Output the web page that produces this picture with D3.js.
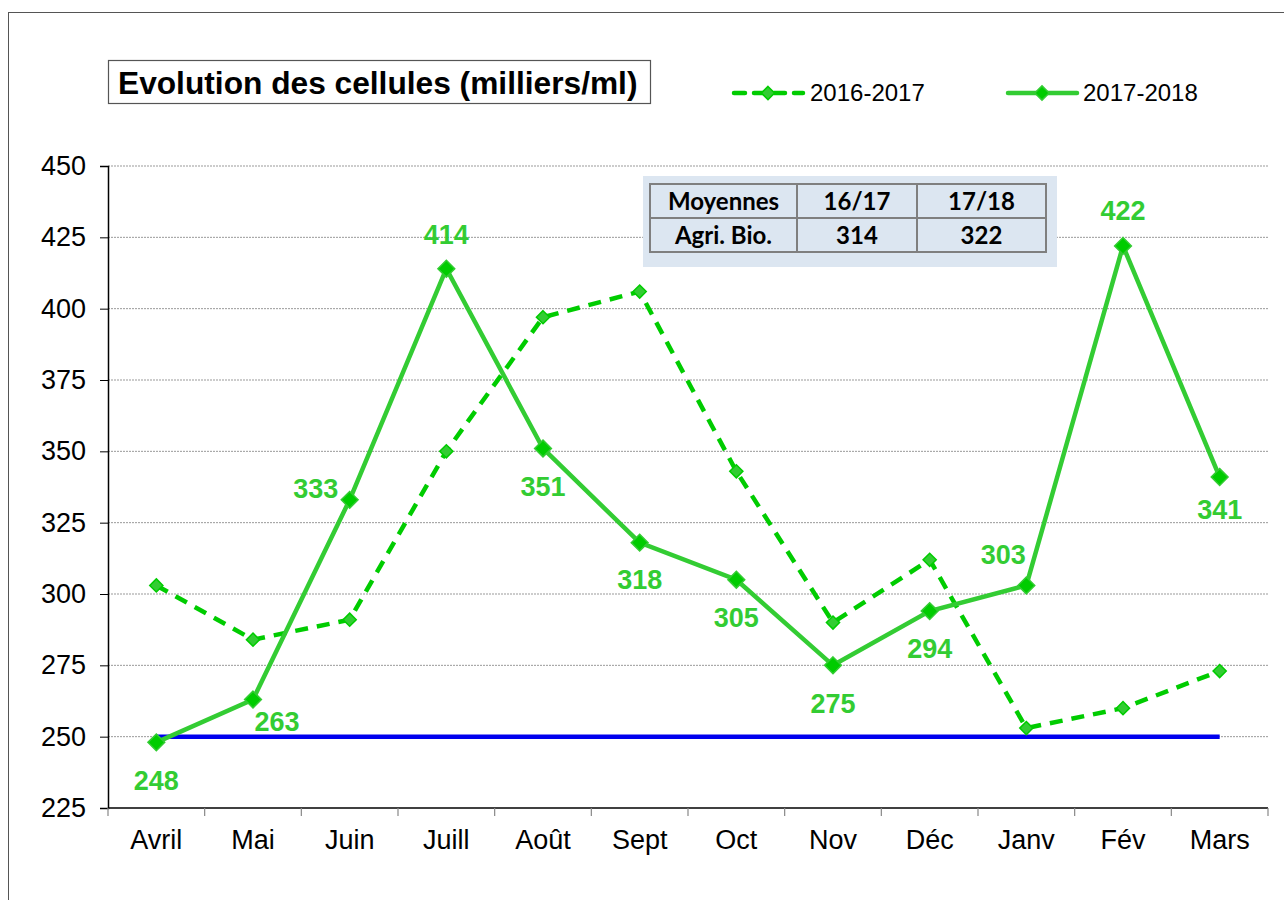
<!DOCTYPE html>
<html>
<head>
<meta charset="utf-8">
<script src="https://cdn.jsdelivr.net/npm/d3@7"></script>
<style>
  body { margin: 0; background: #fff; }
  svg { display: block; font-family: "Liberation Sans", Arial, sans-serif; }
</style>
</head>
<body>
<svg id="chart"></svg>
<script>
// chart data
var months = ["Avril", "Mai", "Juin", "Juill", "Août", "Sept", "Oct", "Nov", "Déc", "Janv", "Fév", "Mars"];
var serie1617 = [303, 284, 291, 350, 397, 406, 343, 290, 312, 253, 260, 273];
var serie1718 = [248, 263, 333, 414, 351, 318, 305, 275, 294, 303, 422, 341];
var seuil = 250;
var yTicks = [225, 250, 275, 300, 325, 350, 375, 400, 425, 450];
var tableHead = ["Moyennes", "16/17", "17/18"];
var tableRow = ["Agri. Bio.", "314", "322"];

// where each 2017-2018 label sits relative to its point
var labelPos = [[0, 48], [24, 31], [-34, -2], [0, -25], [0, 48], [0, 46], [0, 47], [0, 48], [0, 47], [-23, -21], [0, -26], [0, 42]];

var width = 1284, height = 900;
var margin = { top: 166, right: 16, bottom: 92, left: 108 };
var svg = d3.select("#chart").attr("width", width).attr("height", height);

var green = "#33cc33", greenDark = "#00cc00";

// outer frame
svg.append("rect").attr("x", 8.5).attr("y", 12.5).attr("width", 1300).attr("height", 1000)
  .attr("fill", "none").attr("stroke", "#555").attr("stroke-width", 1);

var x = d3.scaleBand().domain(months).range([margin.left, width - margin.right]);
var y = d3.scaleLinear().domain([225, 450]).range([height - margin.bottom, margin.top]);
var cx = function (d, i) { return x(months[i]) + x.bandwidth() / 2; };

// gridlines
svg.append("g").selectAll("line").data(yTicks.slice(1)).enter().append("line")
  .attr("x1", margin.left).attr("x2", width - margin.right)
  .attr("y1", function (d) { return y(d); }).attr("y2", function (d) { return y(d); })
  .attr("stroke", "#999").attr("stroke-width", 1).attr("stroke-dasharray", "2,1");

// y axis
var yAxis = svg.append("g").attr("transform", "translate(" + margin.left + ",0)")
  .call(d3.axisLeft(y).tickValues(yTicks).tickSize(8).tickPadding(14));
yAxis.selectAll("text").style("font-size", "27px").style("fill", "#000").attr("font-family", "Liberation Sans, Arial, sans-serif");
yAxis.select(".domain").attr("stroke", "#000").attr("stroke-width", 1.5);

// x axis: ticks between categories
var xg = svg.append("g");
xg.append("line").attr("x1", margin.left).attr("x2", width - margin.right)
  .attr("y1", y(225)).attr("y2", y(225)).attr("stroke", "#000").attr("stroke-width", 1.5);
xg.selectAll("line.tk").data(months.concat(["end"])).enter().append("line").attr("class", "tk")
  .attr("x1", function (d, i) { return margin.left + i * x.bandwidth(); })
  .attr("x2", function (d, i) { return margin.left + i * x.bandwidth(); })
  .attr("y1", y(225)).attr("y2", y(225) + 8).attr("stroke", "#888").attr("stroke-width", 1.2);
xg.selectAll("text").data(months).enter().append("text")
  .attr("x", function (d) { return x(d) + x.bandwidth() / 2; })
  .attr("y", y(225) + 41).attr("text-anchor", "middle")
  .style("font-size", "27px").text(function (d) { return d; });

// threshold line
svg.append("line").attr("x1", cx(null, 0)).attr("x2", cx(null, 11))
  .attr("y1", y(seuil)).attr("y2", y(seuil))
  .attr("stroke", "#0000ee").attr("stroke-width", 4.5);

var line = d3.line().x(cx).y(function (d) { return y(d); });
var diamond = d3.symbol().type(d3.symbolDiamond2);

// 2016-2017 dashed
svg.append("path").datum(serie1617).attr("d", line).attr("fill", "none")
  .attr("stroke", greenDark).attr("stroke-width", 4.5).attr("stroke-dasharray", "13,9");
svg.append("g").selectAll("path").data(serie1617).enter().append("path")
  .attr("d", diamond.size(110)())
  .attr("transform", function (d, i) { return "translate(" + cx(d, i) + "," + y(d) + ")"; })
  .attr("fill", green).attr("stroke", greenDark).attr("stroke-width", 1.5);

// 2017-2018 solid
svg.append("path").datum(serie1718).attr("d", line).attr("fill", "none")
  .attr("stroke", green).attr("stroke-width", 4.5);
svg.append("g").selectAll("path").data(serie1718).enter().append("path")
  .attr("d", diamond.size(180)())
  .attr("transform", function (d, i) { return "translate(" + cx(d, i) + "," + y(d) + ")"; })
  .attr("fill", greenDark).attr("stroke", green).attr("stroke-width", 1.5);

svg.append("g").selectAll("text").data(serie1718).enter().append("text")
  .attr("x", function (d, i) { return cx(d, i) + labelPos[i][0]; })
  .attr("y", function (d, i) { return y(d) + labelPos[i][1]; })
  .attr("text-anchor", "middle").style("font-size", "27px").style("font-weight", "bold")
  .attr("fill", green).text(function (d) { return d; });

// title box
svg.append("rect").attr("x", 108.5).attr("y", 60.5).attr("width", 542).attr("height", 43)
  .attr("fill", "#fff").attr("stroke", "#555").attr("stroke-width", 1.2);
svg.append("text").attr("x", 118).attr("y", 94).style("font-size", "31.7px").style("font-weight", "bold")
  .text("Evolution des cellules (milliers/ml)");

// legend
var lg = svg.append("g");
lg.append("line").attr("x1", 734).attr("x2", 803).attr("y1", 93).attr("y2", 93)
  .attr("stroke", greenDark).attr("stroke-width", 4.5).attr("stroke-dasharray", "11,9").attr("stroke-linecap", "round");
lg.append("path").attr("d", diamond.size(110)()).attr("transform", "translate(768,93)")
  .attr("fill", green).attr("stroke", greenDark).attr("stroke-width", 1.5);
lg.append("text").attr("x", 810).attr("y", 101).style("font-size", "24px").text("2016-2017");
lg.append("line").attr("x1", 1008).attr("x2", 1077).attr("y1", 93).attr("y2", 93)
  .attr("stroke", green).attr("stroke-width", 4.5).attr("stroke-linecap", "round");
lg.append("path").attr("d", diamond.size(130)()).attr("transform", "translate(1042,93)")
  .attr("fill", greenDark).attr("stroke", green).attr("stroke-width", 1.5);
lg.append("text").attr("x", 1083).attr("y", 101).style("font-size", "24px").text("2017-2018");

// averages table
var tb = svg.append("g");
tb.append("rect").attr("x", 643).attr("y", 176).attr("width", 414).attr("height", 91).attr("fill", "#dce6f1");
var colX = [650, 797, 917, 1046];
var rowY = [184, 218, 252];
[tableHead, tableRow].forEach(function (row, r) {
  row.forEach(function (t, c) {
    tb.append("rect").attr("x", colX[c]).attr("y", rowY[r])
      .attr("width", colX[c + 1] - colX[c]).attr("height", rowY[r + 1] - rowY[r])
      .attr("fill", "none").attr("stroke", "#7f7f7f").attr("stroke-width", 2);
    tb.append("text").attr("x", (colX[c] + colX[c + 1]) / 2).attr("y", rowY[r] + 26)
      .attr("text-anchor", "middle").attr("font-family", "Lato, 'Open Sans', sans-serif")
      .style("font-size", "24px").style("font-weight", "bold").text(t);
  });
});
</script>
</body>
</html>
